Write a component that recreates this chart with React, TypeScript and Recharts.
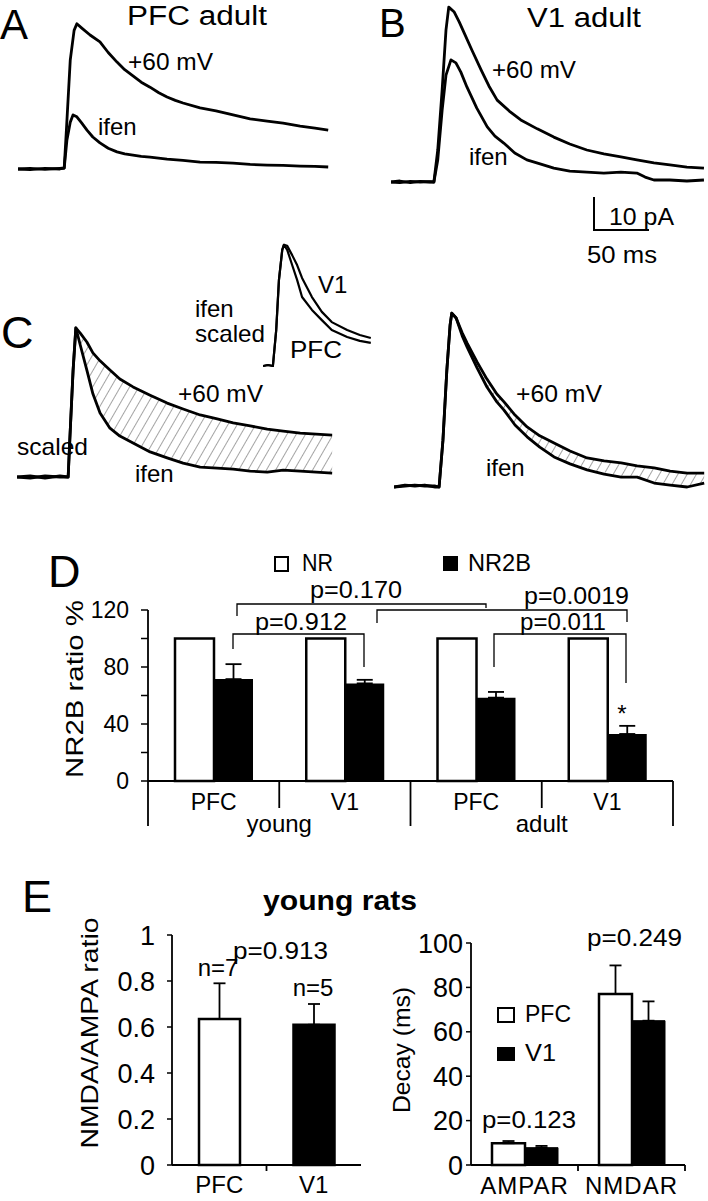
import React from 'react';
import {
  ComposedChart, Line, Area, XAxis, YAxis, BarChart, Bar, ErrorBar, Cell,
} from 'recharts';

const FONT = '"Liberation Sans", Arial, Helvetica, sans-serif';

// scale bar: 50 ms = 55 px, 10 pA = 33 px
const MS_PX = 1.1;
const PA_PX = 3.3;

// A - PFC adult, current in pA vs time in ms
const aP60T = [0, 11, 24.5, 38, 42, 44, 47.5, 51, 53.5, 58, 65.5, 74.5, 82, 90, 97, 104.5, 112, 120, 128, 135.5, 143, 150, 165.5, 180, 195.5, 211, 226.5, 241, 256.5, 270, 282];
const aP60 = [0, 0.2, -0.1, 0.2, 0.3, 11.8, 33, 42, 44, 42.7, 40.6, 38.5, 35.3, 32.4, 30.1, 28.2, 26.3, 24.8, 23.1, 21.8, 20.8, 20, 18.5, 17.6, 16.4, 15.2, 14.5, 13.9, 13, 12.4, 11.8];
const aIfenT = [0, 11, 24.5, 38, 42, 44.5, 47.5, 50, 53.5, 58, 62.7, 68, 74.5, 82, 90, 97, 104.5, 112, 120, 135.5, 150, 165.5, 180, 195.5, 211, 226.5, 241, 256.5, 270, 282];
const aIfen = [0, -0.2, 0.2, 0, 0.3, 8.8, 14.2, 16.4, 15.8, 13.9, 11.8, 9.7, 7.9, 6.3, 5.2, 4.6, 4.2, 3.8, 3.6, 3.0, 2.6, 2.1, 2.0, 1.8, 1.4, 1.2, 1.1, 0.9, 0.8, 0.6];

// B - V1 adult
const bP60T = [0, 8, 17.5, 26.5, 35.5, 39, 42.5, 46.5, 50, 52.5, 57.5, 62, 66.5, 73.5, 82, 89, 96.5, 107.5, 118, 133, 148, 162.5, 178, 193.5, 209, 223.5, 239, 253.5, 269, 284.5];
const bP60 = [0, 0.3, -0.2, 0.2, 0, 0, 9.7, 27.9, 46.1, 53, 51.5, 48.5, 45.2, 40, 33.9, 29.1, 24.8, 21.5, 18.8, 16.1, 13.6, 11.5, 9.7, 8.5, 7.6, 6.7, 5.8, 5.2, 4.5, 4.2];
const bIfenT = [0, 8, 17.5, 26.5, 35.5, 39, 42.5, 46.5, 50, 54.5, 59, 63.5, 69, 78, 87.5, 94.5, 102.5, 112.5, 123.5, 135.5, 148, 162.5, 178, 193.5, 209, 223.5, 231, 239, 253.5, 269, 284.5];
const bIfen = [0, -0.2, 0.2, 0, 0.1, 0, 6.7, 21.8, 32.4, 37, 36.1, 33.3, 28.8, 22.4, 16.7, 13.9, 11.8, 8.8, 6.7, 5.5, 4.2, 3.3, 3, 2.7, 3, 2.7, 1.5, 0.6, 0.6, 0.3, 0.6];

// C - peak-scaled traces, PFC (left) and V1 (right)
const cPfcT = [0, 12, 25.5, 39, 46.5, 48, 51, 53.5, 57.5, 63.5, 69, 75.5, 84.5, 93.5, 105.5, 121, 136.5, 151, 166.5, 182, 196.5, 212, 227.5, 242, 257.5, 272, 286.5];
const cPfcP60 = [0, 0.3, -0.3, 0.3, 0, 11.2, 32.4, 45.2, 43.6, 40.9, 37.6, 35.2, 32.4, 29.7, 27.3, 24.8, 22.4, 20.6, 18.8, 17.6, 16.4, 15.5, 14.5, 13.9, 13.3, 13.0, 12.7];
const cPfcIfen = [0, -0.3, 0.3, 0, 0, 11.2, 32.4, 45.2, 40, 32.4, 25.2, 19.4, 14.8, 12.4, 10.3, 7.6, 5.8, 4.2, 3.0, 2.7, 2.4, 1.8, 1.5, 2.1, 1.8, 1.5, 1.2];

const cV1T = [0, 10, 19, 28, 37.5, 41, 44.5, 48, 51, 52.5, 56.5, 62, 66.5, 75.5, 84.5, 93.5, 100, 110, 121, 132.5, 145.5, 160, 175.5, 191, 206.5, 221, 236.5, 251, 266.5, 282];
const cV1P60 = [0, 0.6, 0.3, 0.6, 0, 0, 14.2, 35.2, 49.1, 52.7, 51.2, 46.7, 43.6, 37.9, 32.7, 28.2, 25.8, 21.8, 18.2, 15.5, 13.3, 10.9, 8.8, 7.9, 7.3, 6.4, 5.8, 4.8, 4.2, 4.2];
const cV1Ifen = [0, 0.3, 0.6, 0.3, 0.3, 0, 14.2, 35.2, 49.1, 52.7, 51.2, 45.8, 42.4, 36.1, 30.3, 25.8, 23.3, 18.8, 15.2, 12.1, 9.1, 7.0, 5.2, 3.9, 3.0, 3.0, 1.2, 0.6, 0, 1.2];

// C inset - ifen traces scaled, V1 vs PFC
const insetT = [0, 4.5, 9, 12, 14.5, 17.5, 19, 22, 26.5, 31, 35.5, 44.5, 53.5, 62.5, 76.5, 88, 98];
const insetV1 = [0, 0.3, 0, 10.9, 26.1, 35.2, 36.7, 36.4, 33.6, 30.6, 26.7, 20.9, 16.4, 13.3, 10.9, 9.4, 8.5];
const insetPfc = [0, 0.3, 0, 10.9, 26.1, 35.2, 36.7, 35.2, 30.6, 26.1, 20.9, 17.0, 13.9, 10.9, 8.8, 7.6, 7.0];

// D - NR2B ratio %
const dRegions = ['PFC', 'V1', 'PFC', 'V1'];
const dAges = ['young', 'young', 'adult', 'adult'];
const dNR = [100, 100, 100, 100];
const dNR2B = [71.5, 68.5, 58.5, 33];
const dNR2BSem = [10.5, 2.5, 4, 5.7];
const dTicks = [0, 20, 40, 60, 80, 100, 120];

// E - young rats
const eRegions = ['PFC', 'V1'];
const eRatio = [0.635, 0.61];
const eRatioSem = [0.155, 0.09];
const eRatioTicks = [0, 0.2, 0.4, 0.6, 0.8, 1];

const decayTypes = ['AMPAR', 'NMDAR'];
const decayPFC = [9.8, 77];
const decayPFCSem = [1, 12.9];
const decayV1 = [7.8, 65];
const decayV1Sem = [0.8, 8.7];
const decayTicks = [0, 20, 40, 60, 80, 100];

const toRows = (t: number[], v: number[]) => t.map((x, i) => ({ t: x, v: v[i] }));

interface TraceProps {
  left: number;
  base: number;
  width: number;
  up: number;
  lines: { t: number[]; v: number[] }[];
  band?: { t: number[]; lo: number[]; hi: number[] };
  lw?: number;
}

const Trace = ({ left, base, width, up, lines, band, lw = 2.8 }: TraceProps) => {
  const down = 14;
  const bandRows = band ? band.t.map((x, i) => ({ t: x, range: [band.lo[i], band.hi[i]] })) : [];
  return (
    <div style={{ position: 'absolute', left, top: base - up }}>
      <ComposedChart width={width} height={up + down} data={bandRows} margin={{ top: 0, right: 0, bottom: 0, left: 0 }}>
        <XAxis type="number" dataKey="t" domain={[0, width / MS_PX]} hide allowDataOverflow />
        <YAxis type="number" domain={[-down / PA_PX, up / PA_PX]} hide allowDataOverflow />
        {band && (
          <Area type="linear" dataKey="range" fill="url(#hatch)" fillOpacity={1} stroke="none" isAnimationActive={false} />
        )}
        {lines.map((l, i) => (
          <Line
            key={i}
            data={toRows(l.t, l.v)}
            dataKey="v"
            type="linear"
            stroke="#000"
            strokeWidth={lw}
            strokeLinejoin="round"
            dot={false}
            activeDot={false}
            isAnimationActive={false}
          />
        ))}
      </ComposedChart>
    </div>
  );
};

const T = ({ x, y, s = 24, a = 'start', len, w, r, ls, children }: any) => (
  <text
    x={x}
    y={y}
    fontSize={s}
    textAnchor={a}
    fontWeight={w}
    letterSpacing={ls}
    textLength={len}
    lengthAdjust={len ? 'spacingAndGlyphs' : undefined}
    transform={r ? `rotate(${r} ${x} ${y})` : undefined}
    fill="#000"
  >
    {children}
  </text>
);

const axisStyle = { stroke: '#000', strokeWidth: 1.8 };

// D
const dRows = dRegions.map((r, i) => ({
  key: `${r}-${dAges[i]}`,
  region: r,
  age: dAges[i],
  nr: dNR[i],
  nr2b: dNR2B[i],
  sem: [0, dNR2BSem[i]],
}));
const D_BAND = (673 - 148) / 4;

const DTick = (props: any) => {
  const { x, y, payload } = props;
  const i = props.index ?? payload.index;
  const row = dRows[i];
  const h = D_BAND / 2;
  return (
    <g>
      <text x={x} y={y + 29} textAnchor="middle" fontSize={23} fontFamily={FONT} fill="#000">{row.region}</text>
      <line x1={x - h} x2={x - h} y1={y} y2={y + (i % 2 === 0 ? 45 : 27)} stroke="#000" strokeWidth={1.8} />
      {i === dRows.length - 1 && <line x1={x + h} x2={x + h} y1={y} y2={y + 45} stroke="#000" strokeWidth={1.8} />}
      {i % 2 === 0 && (
        <text x={x + h} y={y + 51} textAnchor="middle" fontSize={24} fontFamily={FONT} fill="#000">{row.age}</text>
      )}
    </g>
  );
};

const NR2BChart = () => (
  <div style={{ position: 'absolute', left: 0, top: 560 }}>
    <BarChart width={708} height={300} data={dRows} barCategoryGap={27} barGap={0}
      margin={{ top: 50, right: 35, left: 88, bottom: 29 }}>
      <XAxis dataKey="key" height={50} axisLine={axisStyle} tickLine={false} tickSize={0} tickMargin={0}
        tick={(p: any) => <DTick {...p} />} interval={0} />
      <YAxis width={60} domain={[0, 120]} ticks={dTicks} interval={0}
        tickFormatter={(v: number) => (v % 40 === 0 ? String(v) : '')}
        axisLine={axisStyle} tickLine={{ stroke: '#000', strokeWidth: 1.5 }} tickSize={7} tickMargin={12}
        tick={{ fill: '#000', fontSize: 23, fontFamily: FONT }} />
      <Bar dataKey="nr" fill="#fff" stroke="#000" strokeWidth={2.5} isAnimationActive={false} />
      <Bar dataKey="nr2b" fill="#000" isAnimationActive={false}>
        <ErrorBar dataKey="sem" width={8} stroke="#000" strokeWidth={1.8} direction="y" />
      </Bar>
    </BarChart>
  </div>
);

// E left
const eRows = eRegions.map((r, i) => ({ region: r, ratio: eRatio[i], sem: [0, eRatioSem[i]] }));
const E_BAND = (361 - 172) / 2;

const ETick = (props: any) => {
  const { x, y, payload } = props;
  const i = props.index ?? payload.index;
  return (
    <g>
      <text x={x} y={y + 28} textAnchor="middle" fontSize={24} fontFamily={FONT} fill="#000">{payload.value}</text>
      {i === 0 && <line x1={x + E_BAND / 2} x2={x + E_BAND / 2} y1={y} y2={y + 6} stroke="#000" strokeWidth={1.8} />}
    </g>
  );
};

const RatioChart = () => (
  <div style={{ position: 'absolute', left: 0, top: 900 }}>
    <BarChart width={380} height={300} data={eRows} barCategoryGap={27}
      margin={{ top: 35, right: 19, left: 112, bottom: 5 }}>
      <XAxis dataKey="region" height={30} axisLine={axisStyle} tickLine={false} tickSize={0} tickMargin={0}
        tick={(p: any) => <ETick {...p} />} interval={0} />
      <YAxis width={60} domain={[0, 1]} ticks={eRatioTicks} interval={0}
        axisLine={axisStyle} tickLine={{ stroke: '#000', strokeWidth: 1.5 }} tickSize={5} tickMargin={12}
        tick={{ fill: '#000', fontSize: 27, fontFamily: FONT }} />
      <Bar dataKey="ratio" stroke="#000" strokeWidth={2.5} isAnimationActive={false}>
        {eRows.map((r, i) => (
          <Cell key={r.region} fill={i === 0 ? '#fff' : '#000'} />
        ))}
        <ErrorBar dataKey="sem" width={6} stroke="#000" strokeWidth={1.8} direction="y" />
      </Bar>
    </BarChart>
  </div>
);

// E right
const decayRows = decayTypes.map((d, i) => ({
  type: d,
  pfc: decayPFC[i],
  pfcSem: [0, decayPFCSem[i]],
  v1: decayV1[i],
  v1Sem: [0, decayV1Sem[i]],
}));
const DEC_BAND = (685 - 471) / 2;

const DecTick = (props: any) => {
  const { x, y, payload } = props;
  return (
    <g>
      <text x={x} y={y + 29} textAnchor="middle" fontSize={24} letterSpacing={1} fontFamily={FONT} fill="#000">{payload.value}</text>
      <line x1={x + DEC_BAND / 2} x2={x + DEC_BAND / 2} y1={y} y2={y + 6} stroke="#000" strokeWidth={1.8} />
    </g>
  );
};

const DecayChart = () => (
  <div style={{ position: 'absolute', left: 360, top: 900 }}>
    <BarChart width={348} height={300} data={decayRows} barCategoryGap={21} barGap={0}
      margin={{ top: 43, right: 23, left: 51, bottom: 5 }}>
      <XAxis dataKey="type" height={30} axisLine={axisStyle} tickLine={false} tickSize={0} tickMargin={0}
        tick={(p: any) => <DecTick {...p} />} interval={0} />
      <YAxis width={60} domain={[0, 100]} ticks={decayTicks} interval={0}
        axisLine={axisStyle} tickLine={{ stroke: '#000', strokeWidth: 1.5 }} tickSize={5} tickMargin={3}
        tick={{ fill: '#000', fontSize: 27, fontFamily: FONT }} />
      <Bar dataKey="pfc" fill="#fff" stroke="#000" strokeWidth={2.5} isAnimationActive={false}>
        <ErrorBar dataKey="pfcSem" width={6} stroke="#000" strokeWidth={1.8} direction="y" />
      </Bar>
      <Bar dataKey="v1" fill="#000" stroke="#000" strokeWidth={1} isAnimationActive={false}>
        <ErrorBar dataKey="v1Sem" width={6} stroke="#000" strokeWidth={1.8} direction="y" />
      </Bar>
    </BarChart>
  </div>
);

const Overlay = () => (
  <svg width={708} height={1201} style={{ position: 'absolute', left: 0, top: 0, pointerEvents: 'none' }}
    fontFamily={FONT}>
    {/* panel letters */}
    <T x={0} y={39} s={42}>A</T>
    <T x={379} y={37} s={40}>B</T>
    <T x={1} y={348} s={45}>C</T>
    <T x={48} y={587} s={45}>D</T>
    <T x={22} y={912} s={45}>E</T>

    {/* A, B */}
    <T x={127} y={25} s={27} len={140}>PFC adult</T>
    <T x={527} y={27} s={28} len={114}>V1 adult</T>
    <T x={128} y={70} len={85}>+60 mV</T>
    <T x={98} y={135}>ifen</T>
    <T x={492} y={78} len={84}>+60 mV</T>
    <T x={469} y={165}>ifen</T>
    <path d="M594,197 V230 H649" fill="none" stroke="#000" strokeWidth={2} />
    <T x={609} y={225} len={65}>10 pA</T>
    <T x={587} y={263} len={70}>50 ms</T>

    {/* C */}
    <T x={318} y={293}>V1</T>
    <T x={195} y={317}>ifen</T>
    <T x={195} y={342} len={70}>scaled</T>
    <T x={290} y={358} len={52}>PFC</T>
    <T x={178} y={402} len={85}>+60 mV</T>
    <T x={17} y={455} len={71}>scaled</T>
    <T x={135} y={482}>ifen</T>
    <T x={516} y={402} len={86}>+60 mV</T>
    <T x={486} y={476}>ifen</T>

    {/* D */}
    <rect x={275} y={557} width={13} height={14} fill="#fff" stroke="#000" strokeWidth={2} />
    <T x={302} y={571} len={31}>NR</T>
    <rect x={443} y={556} width={15} height={15} fill="#000" />
    <T x={468} y={571} len={63}>NR2B</T>
    <g fill="none" stroke="#000" strokeWidth={1.3}>
      <path d="M237,616 V604 H486 V608" />
      <path d="M233,649 V634 H364 V667" />
      <path d="M377,623 V610 H627 V622" />
      <path d="M494,667 V634 H626 V683" />
    </g>
    <T x={310} y={598} len={92}>p=0.170</T>
    <T x={255} y={630} len={92}>p=0.912</T>
    <T x={524} y={604} len={105}>p=0.0019</T>
    <T x={520} y={630} len={86}>p=0.011</T>
    <T x={622} y={722} a="middle">*</T>
    <T x={83} y={689} a="middle" r={-90} len={178}>NR2B ratio %</T>

    {/* E */}
    <T x={263} y={910} s={28} w="bold" len={154}>young rats</T>
    <T x={233} y={959} len={95}>p=0.913</T>
    <T x={218} y={976} a="middle">n=7</T>
    <T x={313} y={996} a="middle">n=5</T>
    <T x={98} y={1033} a="middle" r={-90} len={231}>NMDA/AMPA ratio</T>
    <T x={410} y={1050} a="middle" r={-90} len={126}>Decay (ms)</T>
    <T x={587} y={946} len={95}>p=0.249</T>
    <T x={482} y={1128} len={94}>p=0.123</T>
    <rect x={498} y={1008} width={16} height={14} fill="#fff" stroke="#000" strokeWidth={2} />
    <T x={525} y={1022} len={46}>PFC</T>
    <rect x={497} y={1047} width={18} height={14} fill="#000" />
    <T x={525} y={1061} len={31}>V1</T>
  </svg>
);

export default function App() {
  return (
    <div style={{ position: 'absolute', left: 0, top: 0, width: 708, height: 1201, background: '#fff', overflow: 'hidden', fontFamily: FONT }}>
      <svg width={0} height={0} style={{ position: 'absolute' }}>
        <defs>
          <pattern id="hatch" patternUnits="userSpaceOnUse" width={8} height={8} patternTransform="rotate(30)">
            <line x1={0} y1={0} x2={0} y2={8} stroke="#8c8c8c" strokeWidth={1.6} />
          </pattern>
        </defs>
      </svg>

      <Trace left={18} base={169} width={320} up={150}
        lines={[{ t: aP60T, v: aP60 }, { t: aIfenT, v: aIfen }]} />
      <Trace left={391} base={182} width={317} up={180}
        lines={[{ t: bP60T, v: bP60 }, { t: bIfenT, v: bIfen }]} />
      <Trace left={17} base={477} width={320} up={152}
        band={{ t: cPfcT, lo: cPfcIfen, hi: cPfcP60 }}
        lines={[{ t: cPfcT, v: cPfcP60 }, { t: cPfcT, v: cPfcIfen }]} />
      <Trace left={263} base={366} width={112} up={125} lw={2.2}
        lines={[{ t: insetT, v: insetV1 }, { t: insetT, v: insetPfc }]} />
      <Trace left={394} base={487} width={314} up={178}
        band={{ t: cV1T, lo: cV1Ifen, hi: cV1P60 }}
        lines={[{ t: cV1T, v: cV1P60 }, { t: cV1T, v: cV1Ifen }]} />

      <NR2BChart />
      <RatioChart />
      <DecayChart />
      <Overlay />
    </div>
  );
}
